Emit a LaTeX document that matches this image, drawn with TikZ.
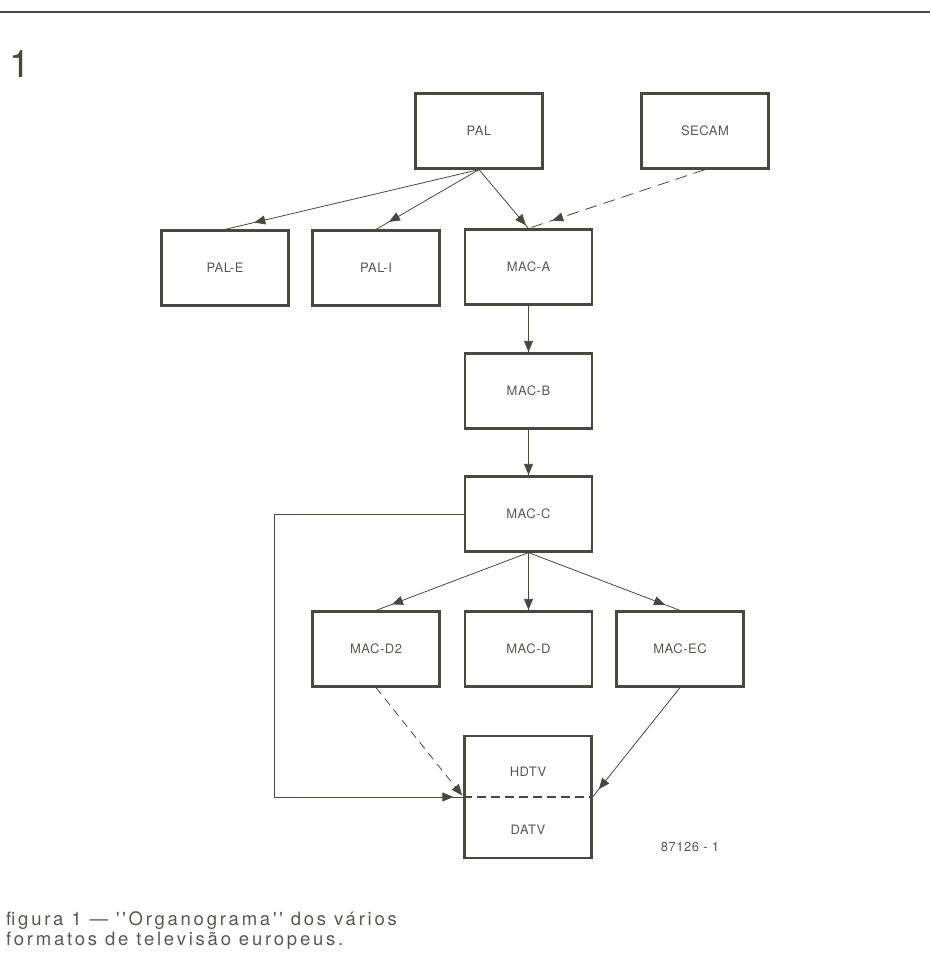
\documentclass[tikz,border=0pt]{standalone}
\usepackage{fontspec}
\setmainfont{TeX Gyre Heros}
\newfontfamily\boxfont[LetterSpace=4]{TeX Gyre Heros}
\newfontfamily\capfont[LetterSpace=15]{TeX Gyre Heros}
\usetikzlibrary{arrows.meta,decorations.markings}
\definecolor{ink}{RGB}{72,72,62}
\definecolor{print}{RGB}{88,88,82}
\begin{document}
\begin{tikzpicture}
  [x=1pt,y=-1pt,
   box/.style={draw=ink,line width=2.2pt,minimum width=127pt,minimum height=75pt,inner sep=0pt,text=print,font=\boxfont\fontsize{13}{15}\selectfont},
   boxtext/.style={text=print,inner sep=0pt,font=\boxfont\fontsize{13}{15}\selectfont},
   link/.style={draw=ink,line width=0.8pt},
   headat/.style={postaction={decorate},decoration={markings,mark=at position #1 with {\arrow{Triangle[length=11pt,width=9pt]}}}},
   caption/.style={anchor=base west,inner sep=0pt,text=print,font=\capfont\fontsize{18.5}{22}\selectfont}]
  \useasboundingbox (0,0) rectangle (930,978);
  \draw[ink,line width=1.8pt] (0,12) -- (930,12);
  \node[text=ink,inner sep=0pt,font=\fontsize{38}{38}\selectfont] (num) at (20,64) {1};
  \node[box] (pal) at (479,131) {PAL};
  \node[box] (secam) at (705,131) {SECAM};
  \node[box] (pale) at (225,268) {PAL-E};
  \node[box] (pali) at (376,268) {PAL-I};
  \node[box] (maca) at (528.5,267) {MAC-A};
  \node[box] (macb) at (528.5,391) {MAC-B};
  \node[box] (macc) at (528.5,514) {MAC-C};
  \node[box] (macd2) at (376,649) {MAC-D2};
  \node[box] (macd) at (528.5,649) {MAC-D};
  \node[box] (macec) at (680,649) {MAC-EC};
  \node[box,minimum height=122pt] (tv) at (528,797) {};
  \node[boxtext] (hdtv) at (528,772) {HDTV};
  \node[boxtext] (datv) at (528,830) {DATV};
  \coordinate (turn) at (274,514);
  \draw[ink,line width=2pt,dash pattern=on 9pt off 5pt] (tv.west) -- (tv.east);
  \foreach \from/\to/\back in {pal.south/pale.north/30,pal.south/pali.north/15,pal.south/maca.north/4,
      maca.south/macb.north/0.5,macb.south/macc.north/0.5,macc.south/macd2.north/17,
      macc.south/macd.north/0.5,macc.south/macec.north/16,macec.south/tv.east/10}
    \draw[link,headat=-\back pt] (\from) -- (\to);
  \draw[link,headat=-25pt,dash pattern=on 12pt off 7pt] (secam.south) -- (maca.north);
  \draw[link,headat=-2pt,dash pattern=on 8pt off 6pt] (macd2.south) -- (tv.west);
  \draw[link,headat=-10pt] (macc.west) -- (turn) |- (tv.west);
  \node[boxtext] (code) at (690,847) {87126 - 1};
  \node[caption] (cap1) at (6,925) {figura 1 — ''Organograma'' dos vários};
  \node[caption] (cap2) at (6,945) {formatos de televisão europeus.};
\end{tikzpicture}
\end{document}
